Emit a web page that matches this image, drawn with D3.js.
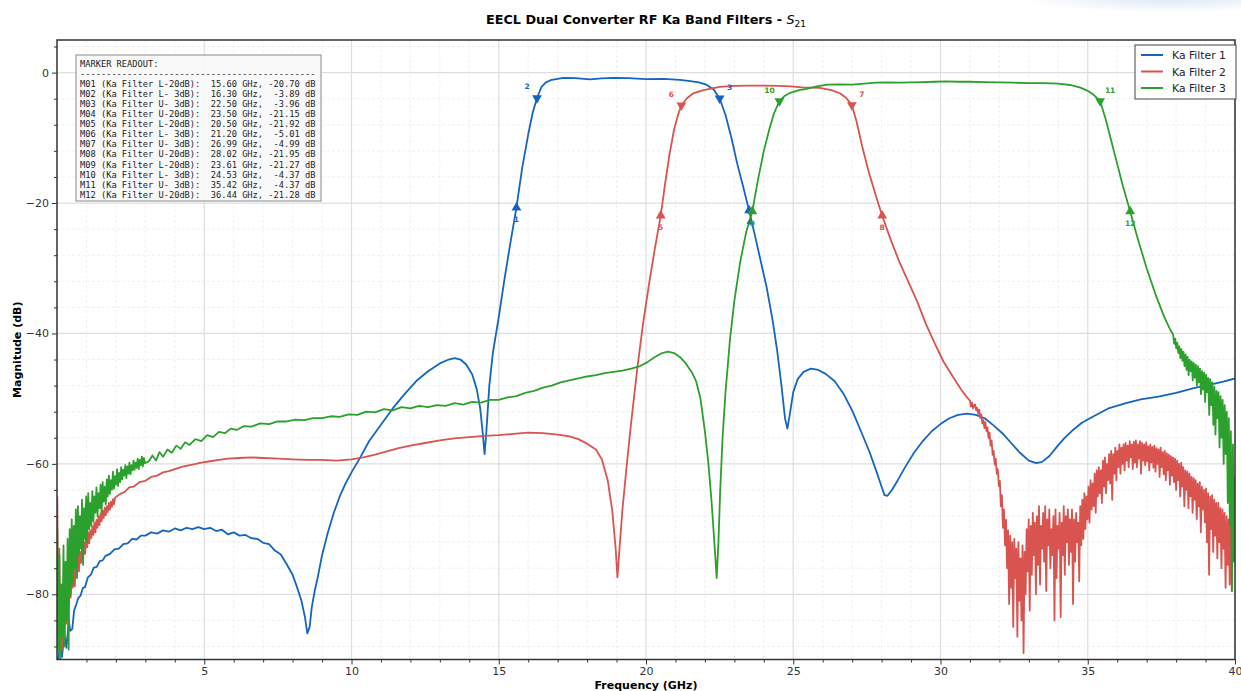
<!DOCTYPE html>
<html lang="en">
<head>
<meta charset="UTF-8">
<title>EECL Dual Converter RF Ka Band Filters - S21</title>
<script src="https://d3js.org/d3.v7.min.js"></script>
<style>
  body { margin: 0; background: #fff; font-family: "DejaVu Sans", sans-serif; }
  svg { display: block; }
  .grid-major line { stroke: #dedede; stroke-width: 1.2; }
  .grid-minor line { stroke: #ececec; stroke-width: 0.8; stroke-dasharray: 3,2; }
  .axis text { font-size: 11px; fill: #333; font-family: "DejaVu Sans", sans-serif; }
  .axis line { stroke: #333; }
  .axis path { display: none; }
  .trace { fill: none; stroke-width: 1.8; stroke-linejoin: round; }
  .readout text { font-family: "DejaVu Sans Mono", monospace; font-size: 8.7px; fill: #222; white-space: pre; }
  .mlabel { font-size: 7.5px; font-weight: bold; text-anchor: middle; dominant-baseline: central; }
</style>
</head>
<body>
<div id="chart"></div>
<script>
// ---- data ----
const freqTicks = [5, 10, 15, 20, 25, 30, 35, 40];
const magTicks = [0, -20, -40, -60, -80];
const seriesNames = ["Ka Filter 1", "Ka Filter 2", "Ka Filter 3"];
const seriesColors = ["#1565c0", "#d9534f", "#2ca02c"];

// sweep spacing (GHz) of the noisy stretches, stored as plain dB lists
const sweepStep = 0.035;

// Filter 1, [GHz, dB]
const filter1 = [
  [0.03,-90],[0.1,-88],[0.17,-89.6],[0.25,-86],[0.32,-88.2],[0.4,-84],[0.45,-85.6],[0.52,-85.3],[0.58,-82.5],
  [0.65,-81.6],[0.72,-80.6],[0.8,-80.2],[0.88,-79],[0.95,-78.9],[1.05,-77.4],[1.15,-77],[1.25,-75.9],[1.35,-75.8],
  [1.45,-74.9],[1.55,-74.8],[1.65,-74.1],[1.8,-73.8],[1.95,-73.1],[2.1,-73.0],[2.25,-72.3],[2.4,-72.2],[2.55,-71.5],
  [2.7,-71.6],[2.85,-71.0],[3.0,-71.0],[3.2,-70.5],[3.4,-70.7],[3.6,-70.2],[3.8,-70.4],[4.0,-69.9],[4.2,-70.2],
  [4.4,-69.8],[4.6,-70.0],[4.8,-69.7],[5.0,-70.0],[5.2,-69.8],[5.4,-70.3],[5.6,-70.1],[5.8,-70.8],[6.0,-70.5],
  [6.2,-71.0],[6.4,-70.9],[6.6,-71.4],[6.8,-71.5],[7.0,-72.1],[7.2,-72.3],[7.4,-73.3],[7.6,-73.9],[7.8,-75.4],
  [8.0,-77],[8.15,-78.9],[8.3,-81],[8.42,-83.5],[8.5,-86],[8.58,-85],[8.65,-82],[8.75,-79.5],[8.85,-77.5],
  [9.0,-74],[9.2,-70.5],[9.4,-67.5],[9.6,-65],[9.8,-63],[10.0,-61.3],[10.3,-59],[10.6,-56.5],[11.0,-54],
  [11.4,-51.5],[11.8,-49.3],[12.2,-47.3],[12.6,-45.8],[13.0,-44.6],[13.3,-44.0],[13.5,-43.8],[13.7,-44.0],
  [13.9,-44.8],[14.1,-46.3],[14.25,-48.5],[14.37,-51.5],[14.45,-55],[14.52,-58.5],[14.58,-55],[14.68,-48],
  [14.8,-43],[15.0,-37.5],[15.2,-31.5],[15.4,-26],[15.6,-20.7],[15.8,-14.5],[16.0,-9.5],[16.15,-6.2],[16.3,-3.89],
  [16.45,-2.2],[16.6,-1.5],[16.8,-1.1],[17.0,-0.95],[17.2,-0.8],[17.6,-0.85],[18.1,-1.05],[18.5,-0.9],[18.9,-0.8],
  [19.4,-0.85],[20.0,-1.0],[20.6,-0.95],[21.15,-1.1],[21.5,-1.3],[21.8,-1.5],[22.05,-1.85],[22.3,-2.6],
  [22.5,-3.96],[22.7,-6.5],[22.9,-10],[23.1,-14],[23.3,-17.5],[23.5,-21.15],[23.7,-25],[23.9,-29],[24.1,-33],
  [24.3,-38],[24.45,-42.5],[24.6,-48],[24.72,-53],[24.8,-54.6],[24.88,-52.5],[25.0,-49],[25.15,-47],[25.35,-45.9],
  [25.6,-45.4],[25.85,-45.6],[26.1,-46.2],[26.4,-47.3],[26.7,-49.2],[27.0,-51.8],[27.3,-55],[27.6,-58.3],
  [27.85,-61.5],[28.0,-63.5],[28.1,-64.8],[28.2,-64.9],[28.35,-64],[28.55,-62.5],[28.8,-60.5],[29.1,-58.3],
  [29.4,-56.5],[29.7,-55],[30.0,-53.9],[30.3,-53],[30.6,-52.5],[30.9,-52.3],[31.2,-52.5],[31.5,-53],[31.8,-54.1],
  [32.1,-55.3],[32.4,-56.8],[32.7,-58.3],[33.0,-59.5],[33.25,-59.9],[33.45,-59.7],[33.7,-58.8],[33.95,-57.4],
  [34.2,-56.1],[34.5,-54.8],[34.8,-53.7],[35.2,-52.7],[35.7,-51.5],[36.3,-50.7],[36.8,-50.1],[37.4,-49.7],
  [38.0,-49.1],[38.6,-48.4],[39.2,-47.8],[39.6,-47.4],[40.0,-46.9]
];

// Filter 2: noisy start (from 0.01 GHz), smooth middle [GHz, dB], noisy tail (from 31.0 GHz)
const filter2LowFrom = 0.01;
const filter2Low = [
  -65.0,-88.0,-73.0,-90.0,-82.0,-88.5,-80.0,-86.0,-81.0,-84.5,
  -78.0,-81.5,-77.0,-80.5,-76.5,-79.0,-75.5,-78.8,-75.0,-77.2,
  -73.8,-76.5,-73.5,-75.2,-72.6,-74.6,-72.0,-73.8,-71.2,-72.8,
  -70.5,-72.2,-70.2,-71.4,-69.6,-70.9,-69.0,-70.5,-68.6,-69.8,
  -68.0,-69.4,-67.6,-68.8,-67.2,-68.3,-66.7,-67.9,-66.5,-67.4,
  -66.0,-67.0,-65.8,-66.6,-65.4,-66.2,-65.2
];
const filter2Mid = [
  [2.15,-64.6],[2.3,-64.3],[2.45,-63.6],[2.6,-63.5],[2.8,-62.8],
  [3.0,-62.6],[3.2,-62],[3.4,-61.8],[3.6,-61.3],[3.8,-61.1],[4.0,-60.8],[4.3,-60.4],[4.6,-60.1],[4.9,-59.8],
  [5.2,-59.6],[5.5,-59.4],[5.8,-59.2],[6.2,-59.1],[6.6,-59.0],[7.0,-59.1],[7.5,-59.2],[8.0,-59.3],[8.5,-59.4],
  [9.0,-59.4],[9.5,-59.5],[10.0,-59.3],[10.4,-59],[10.8,-58.6],[11.2,-58.1],[11.6,-57.6],[12.0,-57.2],
  [12.5,-56.8],[13.0,-56.4],[13.5,-56.1],[14.0,-55.9],[14.5,-55.7],[15.0,-55.6],[15.5,-55.4],[16.0,-55.2],
  [16.5,-55.3],[17.0,-55.5],[17.4,-55.8],[17.7,-56.2],[18.0,-56.9],[18.3,-57.8],[18.5,-59.3],[18.7,-62.5],
  [18.85,-67],[18.97,-73],[19.03,-77.4],[19.1,-73],[19.2,-67],[19.35,-60],[19.5,-53.5],[19.7,-45.5],[19.9,-38.5],
  [20.1,-32.5],[20.3,-27],[20.5,-21.92],[20.65,-17],[20.8,-12.5],[20.95,-8.8],[21.08,-6.6],[21.2,-5.01],
  [21.4,-3.9],[21.6,-3.2],[21.95,-2.7],[22.5,-2.2],[23.0,-2.05],[23.5,-2.0],[24.0,-2.0],[24.5,-2.05],[24.9,-2.1],
  [25.3,-2.25],[25.9,-2.35],[26.3,-2.7],[26.6,-3.2],[26.8,-3.9],[26.99,-4.99],[27.15,-7.5],[27.35,-11.5],
  [27.55,-15],[27.8,-18.8],[28.02,-21.95],[28.3,-25.5],[28.6,-29],[28.9,-32],[29.2,-35],[29.5,-38.5],
  [29.8,-41.5],[30.1,-44.3],[30.4,-46.5],[30.7,-48.6],[30.9,-49.8]
];
const filter2HighFrom = 31.0;
const filter2High = [
  -50.3,-51.2,-50.6,-51.5,-51.0,-50.9,-51.8,-51.4,-52.3,-51.7,
  -53.0,-52.4,-53.8,-53.3,-54.5,-53.6,-55.0,-54.4,-56.0,-55.2,
  -57.2,-56.4,-58.6,-58.0,-60.1,-59.2,-61.5,-60.8,-63.4,-62.6,
  -66.5,-64.8,-69.8,-67.0,-72.5,-68.6,-76.0,-70.2,-81.5,-71.0,
  -79.0,-72.0,-85.0,-71.5,-77.5,-73.0,-86.5,-72.0,-81.0,-74.5,
  -84.0,-72.5,-89.0,-73.5,-80.0,-70.0,-76.5,-68.5,-82.5,-69.5,
  -77.0,-67.5,-74.0,-69.0,-80.0,-68.0,-75.5,-66.5,-78.5,-69.5,
  -73.0,-67.5,-75.0,-66.5,-79.5,-68.5,-72.5,-67.0,-76.0,-70.0,
  -74.0,-68.0,-84.0,-67.0,-77.5,-69.5,-73.0,-67.5,-83.5,-69.0,
  -74.0,-66.5,-77.0,-68.0,-72.0,-67.0,-75.5,-68.5,-73.5,-67.0,
  -81.5,-68.5,-75.0,-67.5,-72.0,-69.0,-78.0,-66.5,-72.5,-65.5,
  -71.5,-64.5,-70.0,-65.0,-68.5,-63.5,-69.0,-62.5,-67.0,-63.0,
  -66.5,-61.5,-67.5,-61.0,-65.0,-60.5,-64.5,-61.0,-66.0,-59.5,
  -63.5,-59.0,-64.5,-60.0,-62.5,-58.5,-63.0,-58.0,-65.5,-58.5,
  -61.5,-57.5,-62.5,-58.0,-60.5,-57.0,-61.5,-57.5,-60.0,-57.0,
  -61.0,-56.8,-59.5,-57.2,-60.5,-56.5,-59.0,-57.0,-60.8,-56.6,
  -59.8,-56.4,-60.5,-57.0,-59.2,-56.5,-61.5,-56.8,-59.5,-57.0,
  -60.2,-56.7,-59.6,-57.3,-61.0,-57.0,-59.8,-57.4,-60.6,-57.2,
  -61.2,-57.6,-60.0,-57.8,-62.0,-57.5,-60.5,-58.2,-61.6,-58.0,
  -62.5,-58.4,-61.0,-58.6,-63.2,-58.8,-61.8,-59.0,-62.8,-59.2,
  -64.0,-59.5,-62.5,-60.0,-65.0,-59.8,-63.5,-60.5,-66.5,-61.0,
  -64.0,-61.2,-66.8,-61.5,-65.0,-62.0,-67.5,-62.2,-65.5,-62.5,
  -68.5,-63.0,-66.5,-62.8,-70.5,-63.5,-67.0,-64.0,-69.0,-63.8,
  -72.0,-64.5,-77.0,-65.0,-70.0,-64.8,-73.5,-65.5,-71.0,-66.0,
  -74.5,-66.0,-72.0,-66.8,-76.0,-67.0,-73.0,-67.5,-79.0,-68.0,
  -75.5,-68.5,-78.5,-69.0,-79.5,-70.0,-74.0
];

// Filter 3: noisy start (from 0.01 GHz), smooth middle [GHz, dB], noisy tail (from 37.9 GHz)
const filter3LowFrom = 0.01;
const filter3Low = [
  -70.0,-89.0,-74.0,-90.0,-78.5,-86.5,-72.5,-88.0,-75.0,-84.0,
  -71.5,-88.5,-70.0,-80.0,-68.5,-78.5,-69.5,-76.0,-67.0,-77.5,
  -66.5,-74.0,-68.0,-73.0,-65.5,-75.5,-66.8,-71.5,-65.0,-72.0,
  -64.5,-70.0,-66.0,-69.5,-64.2,-68.8,-65.0,-67.5,-63.6,-68.0,
  -64.5,-66.8,-63.2,-67.5,-62.8,-65.8,-63.5,-66.2,-62.4,-65.0,
  -61.8,-64.6,-62.5,-64.0,-61.2,-63.8,-61.9,-63.2,-60.8,-63.4,
  -61.4,-62.8,-60.5,-62.4,-60.9,-61.8,-60.2,-62.2,-60.4,-61.5,
  -59.8,-61.6,-60.2,-61.0,-59.5,-60.9,-59.8,-60.6,-59.2,-60.8,
  -59.4,-60.2,-58.9,-60.4,-59.1,-59.9
];
const filter3Mid = [
  [3.12,-59.6],[3.24,-58.7],[3.36,-59.5],[3.48,-58.2],[3.6,-58.9],[3.75,-57.8],[3.9,-58.3],[4.05,-57.2],[4.2,-57.7],
  [4.35,-56.7],[4.5,-57.1],[4.7,-56.2],[4.9,-56.5],[5.1,-55.6],[5.3,-55.9],[5.5,-55.1],[5.7,-55.3],[5.9,-54.6],
  [6.1,-54.8],[6.35,-54.2],[6.6,-54.3],[6.9,-53.8],[7.2,-53.9],[7.5,-53.5],[7.8,-53.5],[8.1,-53.2],[8.4,-53.3],
  [8.7,-53],[9.0,-53],[9.3,-52.7],[9.6,-52.8],[9.9,-52.4],[10.2,-52.5],[10.5,-52],[10.8,-52.1],[11.1,-51.6],
  [11.4,-51.8],[11.7,-51.3],[12.0,-51.5],[12.3,-51.1],[12.6,-51.3],[12.9,-51],[13.2,-51.1],[13.5,-50.7],
  [13.8,-50.9],[14.1,-50.5],[14.4,-50.6],[14.7,-50.2],[15.0,-50.2],[15.3,-49.8],[15.6,-49.6],[15.9,-49.1],
  [16.2,-48.8],[16.5,-48.3],[16.8,-48],[17.1,-47.5],[17.4,-47.2],[17.7,-46.9],[18.0,-46.6],[18.3,-46.4],
  [18.6,-46.1],[18.9,-45.9],[19.2,-45.7],[19.5,-45.4],[19.8,-45],[20.05,-44.4],[20.3,-43.6],[20.55,-43],
  [20.75,-42.8],[20.95,-43],[21.15,-43.6],[21.35,-44.6],[21.55,-45.9],[21.7,-47.3],[21.85,-50],[22.0,-55],
  [22.12,-60],[22.23,-66],[22.32,-72],[22.4,-77.5],[22.46,-72],[22.52,-64],[22.6,-56],[22.7,-49],[22.85,-41],
  [23.0,-35],[23.2,-29],[23.4,-24.5],[23.61,-21.27],[23.8,-16.5],[24.0,-12],[24.2,-8.5],[24.35,-6.2],
  [24.53,-4.37],[24.7,-3.6],[24.9,-3.1],[25.2,-2.7],[25.45,-2.5],[25.8,-2.1],[26.15,-1.85],[26.6,-1.8],
  [27.0,-1.85],[27.4,-1.7],[27.8,-1.55],[28.2,-1.5],[28.6,-1.55],[29.0,-1.5],[29.4,-1.45],[29.8,-1.4],
  [30.2,-1.35],[30.6,-1.4],[31.0,-1.4],[31.5,-1.45],[32.0,-1.5],[32.5,-1.55],[33.0,-1.6],[33.5,-1.6],
  [34.0,-1.7],[34.4,-1.9],[34.75,-2.3],[35.0,-2.8],[35.2,-3.4],[35.42,-4.37],[35.6,-7],[35.8,-10.5],[36.0,-14],
  [36.2,-17.5],[36.44,-21.28],[36.7,-25.5],[37.0,-30],[37.3,-34],[37.6,-37.5],[37.8,-39.4]
];
const filter3HighFrom = 37.9;
const filter3High = [
  -40.2,-41.6,-40.8,-42.3,-41.4,-43.0,-42.0,-43.8,-42.4,-44.2,
  -42.8,-45.0,-43.2,-45.6,-43.6,-46.4,-44.0,-45.8,-44.3,-47.2,
  -44.5,-46.8,-44.8,-48.0,-45.0,-47.5,-45.4,-49.3,-45.8,-48.6,
  -46.0,-50.5,-46.3,-49.0,-46.8,-52.5,-47.0,-51.0,-47.5,-54.0,
  -48.2,-55.5,-48.8,-53.0,-49.0,-57.5,-49.6,-56.0,-50.2,-60.0,
  -51.0,-58.5,-52.0,-66.0,-53.0,-69.5,-55.0,-79.5,-57.0,-75.0,-62.0
];

// marker readout
const markerSeries = [0, 0, 0, 0, 1, 1, 1, 1, 2, 2, 2, 2];
const markerEdge = ["L-20dB", "L- 3dB", "U- 3dB", "U-20dB", "L-20dB", "L- 3dB", "U- 3dB", "U-20dB",
                    "L-20dB", "L- 3dB", "U- 3dB", "U-20dB"];
const markerFreq = [15.60, 16.30, 22.50, 23.50, 20.50, 21.20, 26.99, 28.02, 23.61, 24.53, 35.42, 36.44];
const markerMag = [-20.70, -3.89, -3.96, -21.15, -21.92, -5.01, -4.99, -21.95, -21.27, -4.37, -4.37, -21.28];

// ---- drawing ----
const sweep = (from, vals) => vals.map((v, i) => [from + i * sweepStep, v]);
const filter2 = sweep(filter2LowFrom, filter2Low).concat(filter2Mid, sweep(filter2HighFrom, filter2High));
const filter3 = sweep(filter3LowFrom, filter3Low).concat(filter3Mid, sweep(filter3HighFrom, filter3High));

const width = 1241, height = 691;
const plot = { left: 57, right: 1235, top: 40, bottom: 659.5 };

const svg = d3.select("#chart").append("svg")
  .attr("width", width).attr("height", height);

// faint blue smear in the top right corner of the reference screenshot
const defs = svg.append("defs");
const grad = defs.append("radialGradient").attr("id", "smear");
grad.append("stop").attr("offset", "0%").attr("stop-color", "#dbe7f6").attr("stop-opacity", 0.9);
grad.append("stop").attr("offset", "100%").attr("stop-color", "#dbe7f6").attr("stop-opacity", 0);
svg.append("ellipse").attr("cx", 1170).attr("cy", 0).attr("rx", 150).attr("ry", 12).attr("fill", "url(#smear)");

defs.append("clipPath").attr("id", "clip")
  .append("rect")
  .attr("x", plot.left).attr("y", plot.top)
  .attr("width", plot.right - plot.left).attr("height", plot.bottom - plot.top);

const xScale = d3.scaleLinear().domain([0, 40]).range([plot.left, plot.right]);
const yScale = d3.scaleLinear().domain([-90, 5]).range([plot.bottom, plot.top]);

const minorX = d3.range(1, 40).filter(v => v % 5 !== 0);
const minorY = d3.range(-88, 5, 4).filter(v => v % 20 !== 0);

// grid
svg.append("g").attr("class", "grid-minor")
  .selectAll("line").data(minorX).enter().append("line")
  .attr("x1", d => xScale(d)).attr("x2", d => xScale(d))
  .attr("y1", plot.top).attr("y2", plot.bottom);
svg.append("g").attr("class", "grid-minor")
  .selectAll("line").data(minorY).enter().append("line")
  .attr("y1", d => yScale(d)).attr("y2", d => yScale(d))
  .attr("x1", plot.left).attr("x2", plot.right);
svg.append("g").attr("class", "grid-major")
  .selectAll("line").data(freqTicks).enter().append("line")
  .attr("x1", d => xScale(d)).attr("x2", d => xScale(d))
  .attr("y1", plot.top).attr("y2", plot.bottom);
svg.append("g").attr("class", "grid-major")
  .selectAll("line").data(magTicks).enter().append("line")
  .attr("y1", d => yScale(d)).attr("y2", d => yScale(d))
  .attr("x1", plot.left).attr("x2", plot.right);

// traces
const line = d3.line().x(d => xScale(d[0])).y(d => yScale(d[1]));
const traces = [filter1, filter2, filter3];
svg.append("g").attr("clip-path", "url(#clip)")
  .selectAll("path").data(traces).enter().append("path")
  .attr("class", "trace")
  .attr("stroke", (d, i) => seriesColors[i])
  .attr("d", line);

// markers
const markers = markerFreq.map((f, i) => ({
  n: i + 1, f: f, m: markerMag[i], s: markerSeries[i], edge: markerEdge[i]
}));
const tri = d3.symbol().type(d3.symbolTriangle).size(42);
const mg = svg.append("g");
mg.selectAll("path").data(markers).enter().append("path")
  .attr("d", tri)
  .attr("fill", d => seriesColors[d.s])
  .attr("transform", d => {
    const down = d.edge.indexOf("3dB") >= 0;
    return `translate(${xScale(d.f)},${yScale(d.m)})` + (down ? " rotate(180)" : "");
  });
mg.selectAll("text").data(markers).enter().append("text")
  .attr("class", "mlabel")
  .attr("fill", d => seriesColors[d.s])
  .attr("x", d => {
    if (d.edge.indexOf("20dB") >= 0) return xScale(d.f);
    return xScale(d.f) + (d.edge[0] === "L" ? -10 : 10);
  })
  .attr("y", d => yScale(d.m) + (d.edge.indexOf("20dB") >= 0 ? 12 : -11))
  .text(d => d.n);

// frame
svg.append("rect")
  .attr("x", plot.left).attr("y", plot.top)
  .attr("width", plot.right - plot.left).attr("height", plot.bottom - plot.top)
  .attr("fill", "none").attr("stroke", "#333").attr("stroke-width", 1.5);

// axes
const yFmt = d => d < 0 ? "\u2212" + Math.abs(d) : String(d);
svg.append("g").attr("class", "axis")
  .attr("transform", `translate(0,${plot.bottom})`)
  .call(d3.axisBottom(xScale).tickValues(freqTicks).tickFormat(d3.format("d")).tickSize(5));
svg.append("g").attr("class", "axis")
  .attr("transform", `translate(0,${plot.bottom})`)
  .call(d3.axisBottom(xScale).tickValues(minorX).tickFormat("").tickSize(3));
svg.append("g").attr("class", "axis")
  .attr("transform", `translate(${plot.left},0)`)
  .call(d3.axisLeft(yScale).tickValues(magTicks).tickFormat(yFmt).tickSize(5));
svg.append("g").attr("class", "axis")
  .attr("transform", `translate(${plot.left},0)`)
  .call(d3.axisLeft(yScale).tickValues(minorY).tickFormat("").tickSize(3));

// axis labels and title
svg.append("text")
  .attr("x", (plot.left + plot.right) / 2).attr("y", 689)
  .attr("text-anchor", "middle")
  .style("font-size", "11px").style("font-weight", "bold")
  .text("Frequency (GHz)");
svg.append("text")
  .attr("transform", `translate(21,${(plot.top + plot.bottom) / 2}) rotate(-90)`)
  .attr("text-anchor", "middle")
  .style("font-size", "11px").style("font-weight", "bold")
  .text("Magnitude (dB)");

const title = svg.append("text")
  .attr("x", (plot.left + plot.right) / 2).attr("y", 24)
  .attr("text-anchor", "middle")
  .style("font-size", "12.8px").style("font-weight", "bold");
title.append("tspan").text("EECL Dual Converter RF Ka Band Filters - ");
title.append("tspan").style("font-style", "italic").style("font-weight", "normal").text("S");
title.append("tspan").attr("dy", 3).style("font-size", "9px").style("font-weight", "normal").text("21");

// marker readout box
const pad2 = n => String(n).padStart(2, "0");
const readoutLines = ["MARKER READOUT:", "-".repeat(45)].concat(markers.map(d =>
  `M${pad2(d.n)} (Ka Filter ${d.edge}): ${d.f.toFixed(2).padStart(6)} GHz, ${d.m.toFixed(2).padStart(6)} dB`));
const ro = svg.append("g").attr("class", "readout");
ro.append("rect")
  .attr("x", 76).attr("y", 55).attr("width", 245).attr("height", 146)
  .attr("fill", "#f8f8f9").attr("fill-opacity", 0.92)
  .attr("stroke", "#8a8a8a").attr("stroke-width", 1);
ro.selectAll("text").data(readoutLines).enter().append("text")
  .attr("x", 80)
  .attr("y", (d, i) => 67 + i * 10.05)
  .text(d => d);

// legend
const lg = svg.append("g");
lg.append("rect")
  .attr("x", 1135).attr("y", 45).attr("width", 101).attr("height", 54)
  .attr("fill", "#fff").attr("stroke", "#444").attr("stroke-width", 1);
seriesNames.forEach((name, i) => {
  const yy = 55 + i * 16.5;
  lg.append("line").attr("x1", 1141).attr("x2", 1163).attr("y1", yy).attr("y2", yy)
    .attr("stroke", seriesColors[i]).attr("stroke-width", 2);
  lg.append("text").attr("x", 1172).attr("y", yy + 4)
    .style("font-size", "10.8px").style("fill", "#222").text(name);
});
</script>
</body>
</html>
